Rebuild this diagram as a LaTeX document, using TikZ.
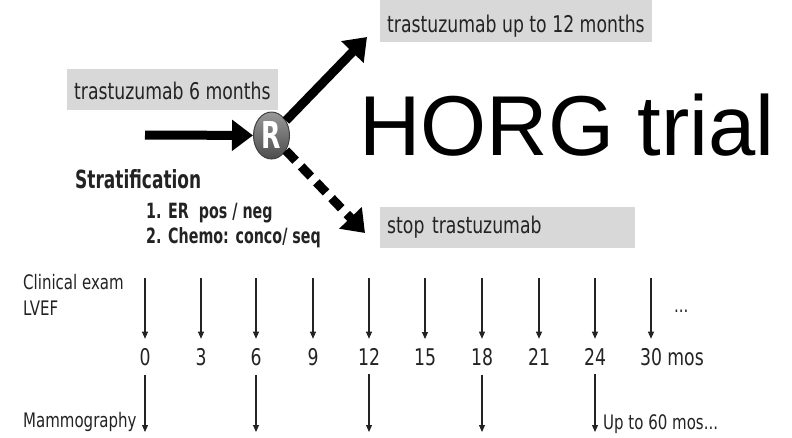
\documentclass[tikz,border=0pt]{standalone}
\usepackage{fontspec}
\setmainfont{DejaVu Sans}[FakeStretch=0.75,BoldFeatures={FakeStretch=0.68}]
\newfontfamily\titlefont{Liberation Sans}
\usetikzlibrary{arrows.meta,shapes.geometric}
\definecolor{boxgray}{RGB}{216,216,216}
\definecolor{inkgray}{RGB}{35,35,35}
\begin{document}
\begin{tikzpicture}[x=1pt,y=-1pt,
  armbox/.style={fill=boxgray,anchor=base west,inner xsep=7pt,inner ysep=5pt,text=inkgray,font=\fontsize{23}{23}\selectfont},
  lbl/.style={anchor=base west,inner sep=0pt,text=inkgray,font=\fontsize{20}{20}\selectfont},
  fat/.style={line width=9pt,-{Triangle[length=21pt,width=30pt]}},
  tick/.style={line width=1.1pt,draw=inkgray,-{Triangle[length=7pt,width=6pt]}},
  mo/.style={anchor=base,inner xsep=0pt,inner ysep=9pt,text=inkgray,font=\fontsize{23}{23}\selectfont}]
\useasboundingbox (0,0) rectangle (792,437);
% treatment arms
\node[armbox,text height=27pt,text depth=5pt] (ext) at (380,32) {trastuzumab up to 12 months};
\node[armbox,text height=25pt,text depth=6pt] (six) at (67,99) {trastuzumab 6 months};
\node[armbox,text height=21pt,text depth=10pt,text width=241pt,align=left] (stop) at (380,233) {stop trastuzumab};
\node[ellipse,minimum width=36pt,minimum height=47pt,inner sep=0pt,draw=black!75,line width=1pt,
  top color=gray!80,bottom color=black!70,text=white,font=\bfseries\fontsize{37}{37}\selectfont] (R) at (271.5,135.5) {R};
\coordinate (in) at (145,135);
\coordinate (upTip) at (367,37);
\coordinate (dnTip) at (365,233);
\draw[fat] (in) -- (R);
\draw[fat] (R) -- (upTip);
\draw[fat,dash pattern=on 14pt off 8pt] (R) -- (dnTip);
\node[lbl,font=\bfseries\fontsize{25}{25}\selectfont] (strat) at (75,188) {Stratification};
\node[lbl,font=\bfseries\fontsize{21}{21}\selectfont] (er) at (146,218) {1. ER\ \ pos / neg};
\node[lbl,font=\bfseries\fontsize{21}{21}\selectfont] (chemo) at (146,243) {2. Chemo: conco/ seq};
\node[lbl,text=black,font=\titlefont\fontsize{85}{85}\selectfont] (title) at (359,155) {HORG trial};
% follow-up timeline
\node[lbl] (clin) at (23,289) {Clinical exam};
\node[lbl] (lvef) at (23,315) {LVEF};
\node[lbl] (mammo) at (23,427) {Mammography};
\node[lbl] (more) at (674,312) {...};
\node[lbl] (upto) at (603,429) {Up to 60 mos...};
\foreach \m/\x in {0/145,3/201,6/256,9/313,12/369,15/425,18/482,21/539,24/595}{
  \coordinate (t\m) at (\x,278);
  \node[mo] (m\m) at (\x,365) {\m};
  \draw[tick] (t\m) -- (m\m);
}
\coordinate (t30) at (651,278);
\node[mo] (m30) at (651,365) {30\rlap{ mos}};
\draw[tick] (t30) -- (m30);
\foreach \m/\x in {0/145,6/256,12/369,18/482,24/595}{
  \coordinate (b\m) at (\x,432);
  \draw[tick] (m\m) -- (b\m);
}
\end{tikzpicture}
\end{document}
